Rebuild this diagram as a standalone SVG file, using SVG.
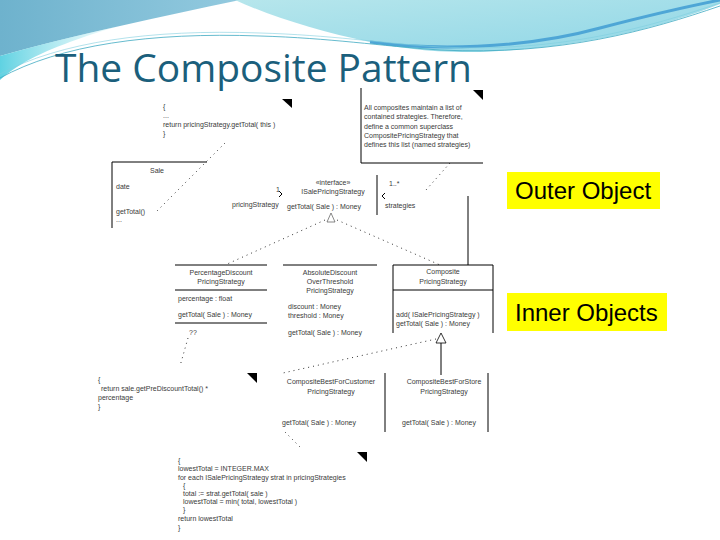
<svg xmlns="http://www.w3.org/2000/svg" width="720" height="540" viewBox="0 0 720 540">
<defs>
<linearGradient id="gBlue" x1="0" y1="0" x2="1" y2="0">
<stop offset="0" stop-color="#6eb2cd"/><stop offset="1" stop-color="#93cadf"/>
</linearGradient>
<linearGradient id="gCyan" x1="0" y1="0" x2="1" y2="0">
<stop offset="0" stop-color="#5fd2e2"/><stop offset="1" stop-color="#b8ecf2" stop-opacity="0.2"/>
</linearGradient>
<linearGradient id="gRight" x1="0" y1="0" x2="1" y2="1">
<stop offset="0" stop-color="#b6e6ec"/><stop offset="1" stop-color="#8fd6e6"/>
</linearGradient>
<style>
.t{font-family:"Liberation Sans",Arial,sans-serif;font-size:7px;fill:#3a3a3a}
.c{text-anchor:middle}
.ln{stroke:#000;stroke-width:1;fill:none}
.dot{stroke:#333;stroke-width:1;fill:none;stroke-dasharray:1 4}
.fold{fill:#000}
.lab{font-family:"Liberation Sans",Arial,sans-serif;font-size:24px;fill:#000}
</style>
</defs>
<rect width="720" height="540" fill="#fff"/>
<g id="background">
<path d="M0,0 H240 C200,8 160,17 120,26 C75,36 35,46 0,56 Z" fill="url(#gBlue)"/>
<path d="M0,56 C35,46 75,36 120,26 C90,34 50,48 25,62 C15,68 6,74 0,80 Z" fill="url(#gCyan)"/>
<path d="M235,0 H720 V4 C660,28 580,48 480,52 C430,53 395,47 370,42 C320,32 270,16 235,0 Z" fill="url(#gRight)"/>
<path d="M370,42 C430,50 520,50 600,28 C650,15 690,6 720,0" stroke="#4ea6d6" stroke-width="3" fill="none"/>
<path d="M0,78 C60,45 150,32 260,36 C330,38 380,46 440,50 C560,56 650,30 720,6" stroke="#3fa9c2" stroke-width="0.8" fill="none"/>
<path d="M0,74 C60,42 150,29 260,33 C330,35 380,43 440,47 C560,53 650,27 720,3" stroke="#7fcfdf" stroke-width="0.6" fill="none"/>
</g>
<text id="title" x="55" y="82" font-family="'Open Sans','Noto Sans',sans-serif" font-size="38" fill="#1b5f7c" textLength="417" lengthAdjust="spacingAndGlyphs">The Composite Pattern</text>

<g id="connectors">
<path class="dot" d="M225,143 L155,213"/>
<path class="dot" d="M450,163 L426,190"/>
<path class="ln" d="M279,191 L282,194 M279,197 L282,194" stroke-width="0.8"/>
<path class="ln" d="M468,196 V265"/>
<path class="ln" d="M385,193 L382,196 L385,199" stroke-width="0.8"/>
<path class="dot" d="M325,220 L225,265"/>
<path class="dot" d="M337,220 L440,265"/>
<path d="M331,213 L327,222 L335,222 Z" fill="#fff" stroke="#555" stroke-width="0.7"/>
<path d="M441,333 L436,343 L446,343 Z" fill="#fff" stroke="#000" stroke-width="0.8"/>
<path class="ln" d="M441,343 V375"/>
<path class="dot" d="M436,339 L283,373"/>
<path class="dot" d="M188,338 L180,366"/>
<path class="dot" d="M285,432 L302,449"/>
</g>

<g id="note1">
<text class="t" x="163" y="109">{</text>
<text class="t" x="163" y="118">...</text>
<text class="t" x="163" y="127">return pricingStrategy.getTotal( this )</text>
<text class="t" x="163" y="136">}</text>
<path class="fold" d="M282,99 L292,99 L292,108 Z"/>
</g>

<g id="note2">
<path class="ln" d="M361,88 V163 H483"/>
<path class="fold" d="M473,90 L483,90 L483,100 Z"/>
<text class="t" x="364" y="110">All composites maintain a list of</text>
<text class="t" x="364" y="119">contained strategies. Therefore,</text>
<text class="t" x="364" y="129">define a common superclass</text>
<text class="t" x="364" y="138">CompositePricingStrategy that</text>
<text class="t" x="364" y="147">defines this list (named strategies)</text>
</g>

<g id="sale">
<path class="ln" d="M207,162 H112 V228"/>
<text class="t c" x="157" y="173">Sale</text>
<text class="t" x="116" y="189">date</text>
<text class="t" x="116" y="214">getTotal()</text>
<text class="t" x="116" y="222">...</text>
<text class="t" x="276" y="192">1</text>
<text class="t" x="232" y="207">pricingStrategy</text>
</g>

<g id="interface">
<path class="ln" d="M377,175 V215"/>
<text class="t c" x="333" y="185">«interface»</text>
<text class="t c" x="333" y="194">ISalePricingStrategy</text>
<text class="t" x="287" y="209">getTotal( Sale ) : Money</text>
<text class="t" x="389" y="186">1..*</text>
<text class="t" x="385" y="208">strategies</text>
</g>

<g id="percentage">
<path class="ln" d="M175,265 H267 M175,290 H267 M175,323 H267"/>
<text class="t c" x="221" y="275">PercentageDiscount</text>
<text class="t c" x="221" y="284">PricingStrategy</text>
<text class="t" x="178" y="301">percentage : float</text>
<text class="t" x="178" y="317">getTotal( Sale ) : Money</text>
<text class="t" x="189" y="335">??</text>
</g>

<g id="absolute">
<path class="ln" d="M283,265 H377"/>
<text class="t c" x="330" y="275">AbsoluteDiscount</text>
<text class="t c" x="330" y="284">OverThreshold</text>
<text class="t c" x="330" y="293">PricingStrategy</text>
<text class="t" x="288" y="309">discount : Money</text>
<text class="t" x="288" y="318">threshold : Money</text>
<text class="t" x="288" y="335">getTotal( Sale ) : Money</text>
</g>

<g id="composite">
<path class="ln" d="M393,333 V265 H493 V333 M393,290 H493"/>
<text class="t c" x="443" y="274">Composite</text>
<text class="t c" x="443" y="284">PricingStrategy</text>
<text class="t" x="396" y="317">add( ISalePricingStrategy )</text>
<text class="t" x="396" y="326">getTotal( Sale ) : Money</text>
</g>

<g id="note3">
<text class="t" x="98" y="382">{</text>
<text class="t" x="101" y="391">return sale.getPreDiscountTotal() *</text>
<text class="t" x="98" y="400">percentage</text>
<text class="t" x="98" y="409">}</text>
<path class="fold" d="M247,373 L257,373 L257,383 Z"/>
</g>

<g id="bestCustomer">
<path class="ln" d="M385,373 V432"/>
<text class="t c" x="331" y="384">CompositeBestForCustomer</text>
<text class="t c" x="331" y="394">PricingStrategy</text>
<text class="t" x="282" y="425">getTotal( Sale ) : Money</text>
</g>

<g id="bestStore">
<path class="ln" d="M488,373 V432"/>
<text class="t c" x="444" y="384">CompositeBestForStore</text>
<text class="t c" x="444" y="394">PricingStrategy</text>
<text class="t" x="402" y="425">getTotal( Sale ) : Money</text>
</g>

<g id="note4">
<path class="fold" d="M357,452 L367,452 L367,462 Z"/>
<text class="t" x="178" y="463">{</text>
<text class="t" x="178" y="471">lowestTotal = INTEGER.MAX</text>
<text class="t" x="178" y="480">for each ISalePricingStrategy strat in pricingStrategies</text>
<text class="t" x="183" y="488">{</text>
<text class="t" x="183" y="496">total := strat.getTotal( sale )</text>
<text class="t" x="183" y="504">lowestTotal = min( total, lowestTotal )</text>
<text class="t" x="183" y="512">}</text>
<text class="t" x="178" y="521">return lowestTotal</text>
<text class="t" x="178" y="530">}</text>
</g>

<g id="outerLabel">
<rect x="507" y="172" width="153" height="37" fill="#ffff00"/>
<text class="lab" x="515" y="199">Outer Object</text>
</g>
<g id="innerLabel">
<rect x="507" y="293" width="160" height="38" fill="#ffff00"/>
<text class="lab" x="515" y="321">Inner Objects</text>
</g>
</svg>
